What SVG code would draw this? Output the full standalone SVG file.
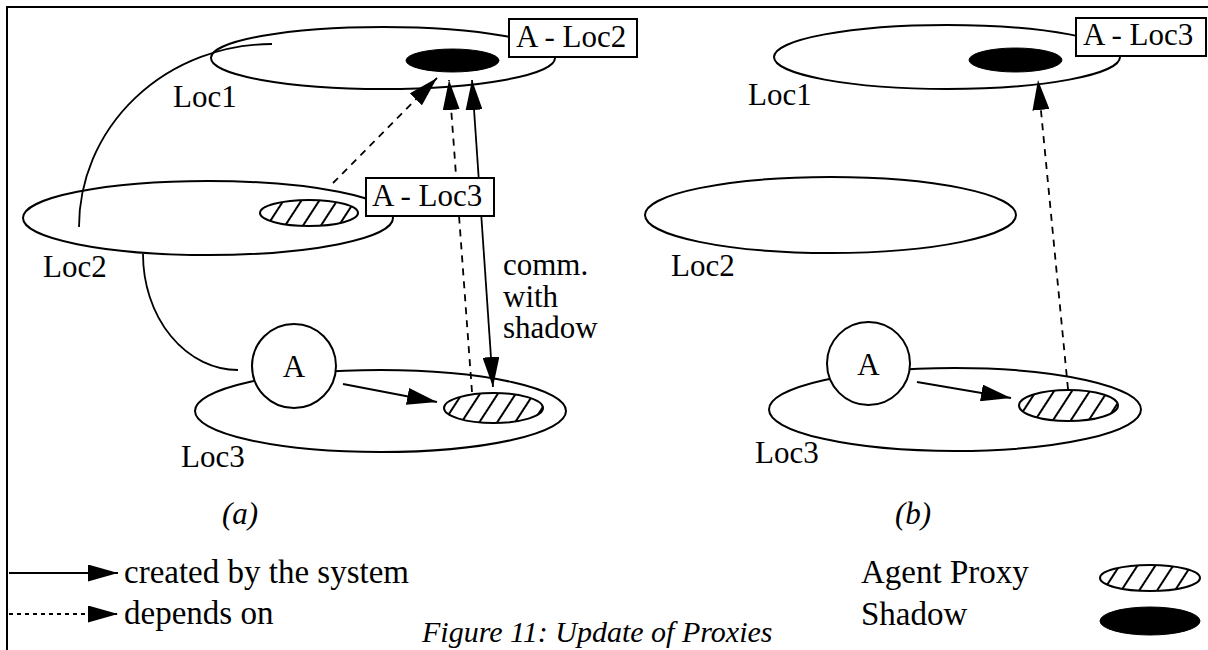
<svg xmlns="http://www.w3.org/2000/svg" width="1208" height="650" viewBox="0 0 1208 650">
<style>
text{font-family:"Liberation Serif","Times New Roman",serif;font-size:31px;fill:#000}
.it{font-style:italic}
.lg{font-size:33px}
.cap{font-size:30px}
.loc{fill:none;stroke:#000;stroke-width:2}
.box{fill:#fff;stroke:#000;stroke-width:2}
.shadow{fill:#000;stroke:#000;stroke-width:1}
.proxy{fill:url(#hatch);stroke:#000;stroke-width:2}
.agent{fill:#fff;stroke:#000;stroke-width:2}
.link{fill:none;stroke:#000;stroke-width:1.8}
.dash{stroke-dasharray:7 6}
.arr{marker-end:url(#ah)}
</style>
<defs>
<pattern id="hatch" patternUnits="userSpaceOnUse" width="15" height="15" patternTransform="rotate(33)">
<rect width="15" height="15" fill="#fff"/>
<line x1="2" y1="0" x2="2" y2="15" stroke="#000" stroke-width="2"/>
</pattern>
<marker id="ah" markerUnits="userSpaceOnUse" markerWidth="30" markerHeight="17" refX="30" refY="8.5" orient="auto-start-reverse" viewBox="0 0 30 17">
<path d="M0,0 L30,8.5 L0,17 z" fill="#000"/>
</marker>
</defs>
<path id="frame" d="M7,650 L7,7 L1208,7" fill="none" stroke="#000" stroke-width="2"/>

<g id="loc1-a"><ellipse class="loc" cx="383" cy="58" rx="172" ry="31"/><text x="173" y="107">Loc1</text></g>
<g id="loc2-a"><ellipse class="loc" cx="208" cy="218" rx="185" ry="37"/><text x="43" y="277">Loc2</text></g>
<g id="loc3-a"><ellipse class="loc" cx="380.5" cy="411" rx="185.5" ry="41"/><text x="181" y="467">Loc3</text></g>
<g id="loc1-b"><ellipse class="loc" cx="947" cy="57" rx="173" ry="32"/><text x="748" y="105">Loc1</text></g>
<g id="loc2-b"><ellipse class="loc" cx="830.5" cy="215" rx="185.5" ry="38"/><text x="671" y="276">Loc2</text></g>
<g id="loc3-b"><ellipse class="loc" cx="955" cy="409.5" rx="186" ry="41.5"/><text x="755" y="463">Loc3</text></g>

<g id="connectors">
<path class="link" d="M272,44 A193,183 0 0 0 79,227"/>
<path class="link" d="M143,254 A95,116 0 0 0 238,370"/>
<path class="link dash arr" d="M333,183 L437,78"/>
<path class="link dash arr" d="M472,392 L449,80"/>
<path class="link arr" d="M493,387 L472,80" marker-start="url(#ah)"/>
<path class="link arr" d="M343,384 L437,402"/>
<path class="link dash arr" d="M1068,389 L1038,80"/>
<path class="link arr" d="M917,382 L1011,398"/>
</g>

<g id="shadow-a"><ellipse class="shadow" cx="452.5" cy="60.5" rx="46.5" ry="11.5"/></g>
<g id="label-a-loc2"><rect class="box" x="509" y="19" width="128" height="38"/><text x="516" y="47">A - Loc2</text></g>
<g id="proxy-a-loc2"><ellipse class="proxy" cx="309" cy="213" rx="49" ry="13"/></g>
<g id="label-a-loc3"><rect class="box" x="366" y="178" width="128" height="38"/><text x="372" y="206">A - Loc3</text></g>
<g id="agent-a"><circle class="agent" cx="294" cy="366" r="42"/><text x="294" y="377" text-anchor="middle">A</text></g>
<g id="proxy-a-loc3"><ellipse class="proxy" cx="493.5" cy="408" rx="49.5" ry="15"/></g>
<g id="comm-label"><text x="503" y="275">comm.</text><text x="503" y="307">with</text><text x="503" y="338">shadow</text></g>

<g id="shadow-b"><ellipse class="shadow" cx="1015.5" cy="60" rx="46.5" ry="12"/></g>
<g id="label-b-loc3"><rect class="box" x="1076" y="18" width="130" height="38"/><text x="1083" y="45">A - Loc3</text></g>
<g id="agent-b"><circle class="agent" cx="868.5" cy="363.5" r="41.5"/><text x="868.5" y="375" text-anchor="middle">A</text></g>
<g id="proxy-b-loc3"><ellipse class="proxy" cx="1068.5" cy="405.5" rx="49.5" ry="15.5"/></g>

<g id="captions">
<text class="it" x="222" y="524">(a)</text>
<text class="it" x="895" y="524">(b)</text>
<text class="it cap" x="422" y="642">Figure 11: Update of Proxies</text>
</g>
<g id="legend">
<path class="link arr" d="M9,573 L118,573"/>
<text class="lg" x="124" y="583">created by the system</text>
<path class="link arr" d="M9,614 L118,614" stroke-dasharray="4 4"/>
<text class="lg" x="124" y="624">depends on</text>
<text class="lg" x="861" y="583">Agent Proxy</text>
<ellipse class="proxy" cx="1150" cy="578" rx="50" ry="13"/>
<text class="lg" x="861" y="625">Shadow</text>
<ellipse class="shadow" cx="1150" cy="621" rx="50" ry="14"/>
</g>
</svg>
